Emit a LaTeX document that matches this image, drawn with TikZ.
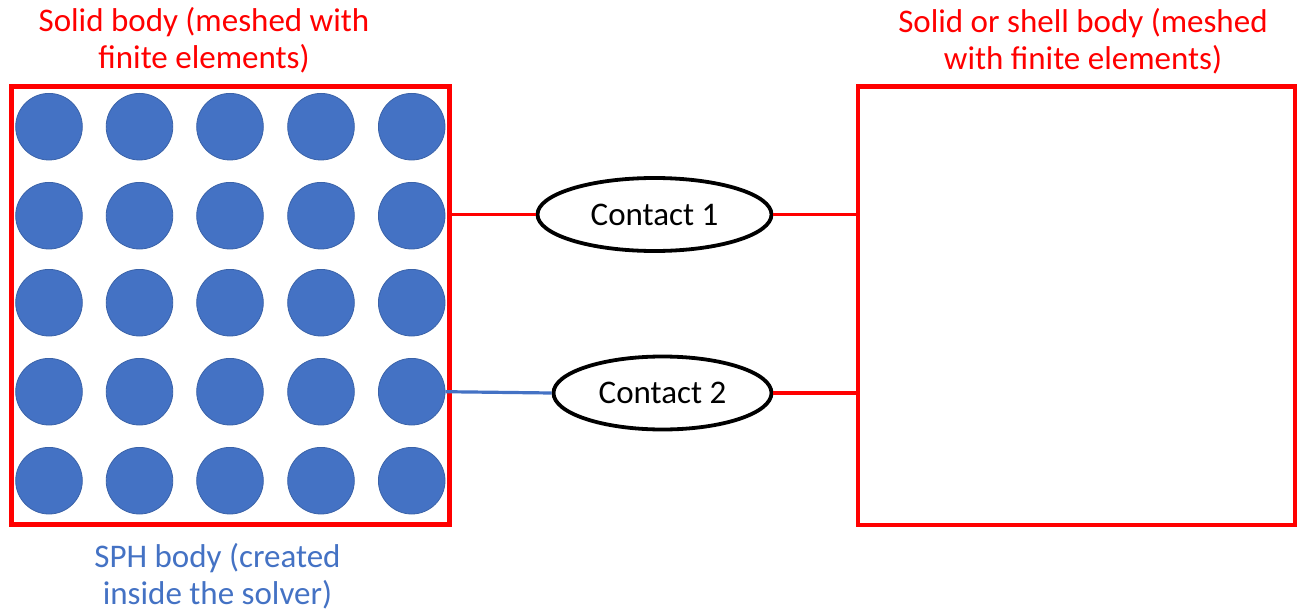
\documentclass[tikz,border=0pt]{standalone}
\usepackage{fontspec}
\setmainfont{Carlito}
\usetikzlibrary{shapes.geometric}
\definecolor{sphblue}{HTML}{4472C4}
\definecolor{sphedge}{HTML}{3A62A8}
\definecolor{fered}{HTML}{FF0000}

\begin{document}
\begin{tikzpicture}[x=0.5pt,y=-0.5pt,
  bodybox/.style={draw=fered, line width=2.2pt, rectangle, inner sep=0pt},
  particle/.style={circle, fill=sphblue, draw=sphedge, line width=0.4pt,
    minimum size=33.3pt, inner sep=0pt},
  contact/.style={ellipse, draw=black, line width=1.9pt, fill=white,
    inner sep=0pt, minimum height=36.5pt, font=\fontsize{16.5}{19}\selectfont},
  link/.style={draw=fered, line width=1.9pt},
  sphlink/.style={draw=sphblue, line width=1.6pt},
  caption/.style={align=center, font=\fontsize{16.5}{18.5}\selectfont, inner sep=0pt}
]
\useasboundingbox (0,0) rectangle (1306,615);

% bodies
\node[bodybox, minimum width=219pt, minimum height=219pt] (sph) at (230.5,305.5) {};
\node[bodybox, minimum width=218.5pt, minimum height=219.25pt] (fe) at (1076.5,305.75) {};

% SPH particles, 5 x 5
\foreach \r/\y in {1/126.7,2/215.7,3/302.7,4/391.7,5/480.7}
  \foreach \c/\x in {1/49,2/139.5,3/230,4/321,5/411.7}
    \node[particle] (p-\r-\c) at (\x,\y) {};

% contacts
\node[contact, minimum width=117pt] (c1) at (654.5,214.5) {Contact 1};
\node[contact, minimum width=109pt] (c2) at (662.5,393) {Contact 2};

% connectors
\draw[link] (c1.west -| sph.east) -- (c1.west);
\draw[link] (c1.east) -- (c1.east -| fe.west);
\draw[sphlink] (p-4-5.east) -- (c2.west);
\draw[link] (c2.east) -- (c2.east -| fe.west);

% captions
\node[caption, text=fered] (t1) at (204,40) {Solid body (meshed with\\finite elements)};
\node[caption, text=fered] (t2) at (1083,41) {Solid or shell body (meshed\\with finite elements)};
\node[caption, text=sphblue] (t3) at (217.5,576) {SPH body (created\\inside the solver)};
\end{tikzpicture}
\end{document}
